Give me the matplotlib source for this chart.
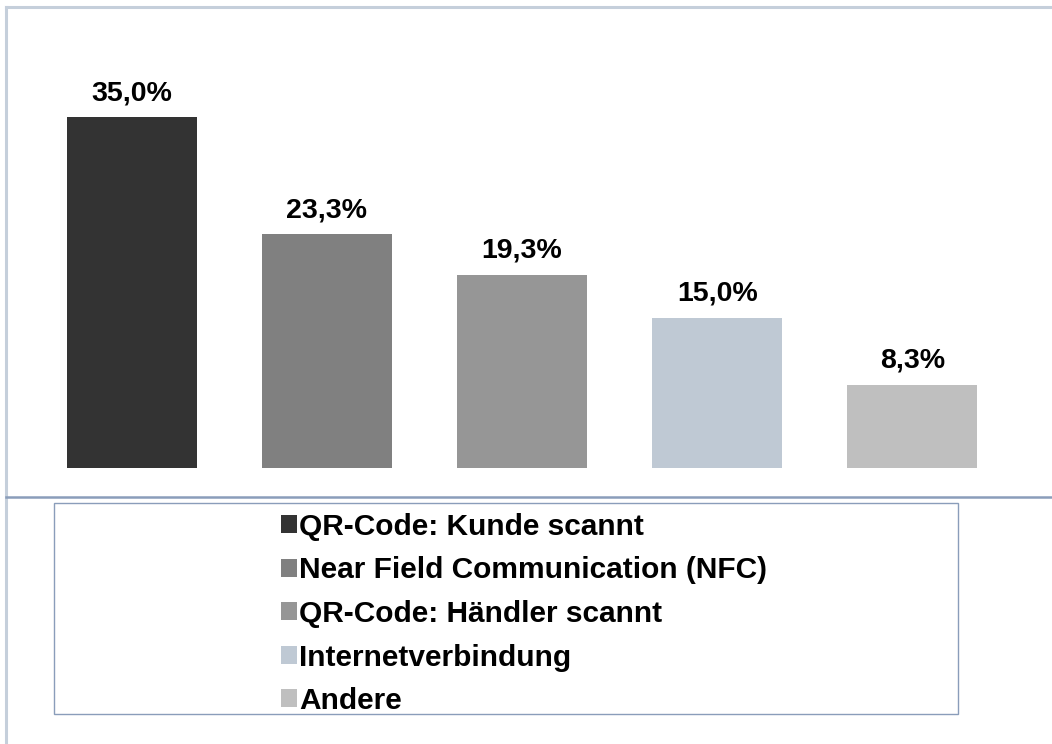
import matplotlib.pyplot as plt
from matplotlib.patches import Rectangle, Patch
from matplotlib.lines import Line2D

plt.rcParams['font.family'] = ['Liberation Sans', 'DejaVu Sans']

categories = ['QR-Code: Kunde scannt', 'Near Field Communication (NFC)',
              'QR-Code: Händler scannt', 'Internetverbindung', 'Andere']
values = [35.0, 23.3, 19.3, 15.0, 8.3]
colors = ['#333333', '#808080', '#969696', '#bfc9d4', '#bfbfbf']

W, H = 1052, 744
fig = plt.figure(figsize=(W / 100, H / 100), dpi=100)

# plot area in pixels: x 34..1010, y 67..468
ax = fig.add_axes([34 / W, 1 - 468 / H, 976 / W, 401 / H])
x = list(range(len(values)))
ax.bar(x, values, width=0.667, color=colors)
ax.set_xlim(-0.5, len(values) - 0.5)
ax.set_ylim(0, 40)
ax.axis('off')

for i, v in enumerate(values):
    ax.annotate(f"{v:.1f}%".replace('.', ','), (i, v), xytext=(0, 8),
                textcoords='offset points', ha='center', va='bottom',
                fontsize=20.5, fontweight='bold')

# frame lines
fig.add_artist(Line2D([6 / W, 1], [1 - 7 / H, 1 - 7 / H], color='#c5cfdb', lw=2.2))
fig.add_artist(Line2D([6 / W, 6 / W], [0, 1 - 7 / H], color='#c5cfdb', lw=2.2))
fig.add_artist(Line2D([6 / W, 1], [1 - 497 / H, 1 - 497 / H], color='#8a9dba', lw=1.8))

# legend box
fig.add_artist(Rectangle((54 / W, 1 - 714 / H), 904 / W, 211 / H,
                         transform=fig.transFigure, fill=False,
                         edgecolor='#8a9dba', lw=1.0))

handles = [Patch(facecolor=c, edgecolor='none') for c in colors]
fig.legend(handles, categories, loc='upper left',
           bbox_to_anchor=(266 / W, 1 - 498 / H), frameon=False, borderpad=0,
           prop={'size': 21.5, 'weight': 'bold'}, handlelength=0.55,
           handleheight=0.55, handletextpad=0.05, labelspacing=0.52)

fig.savefig('out.png', dpi=100)
